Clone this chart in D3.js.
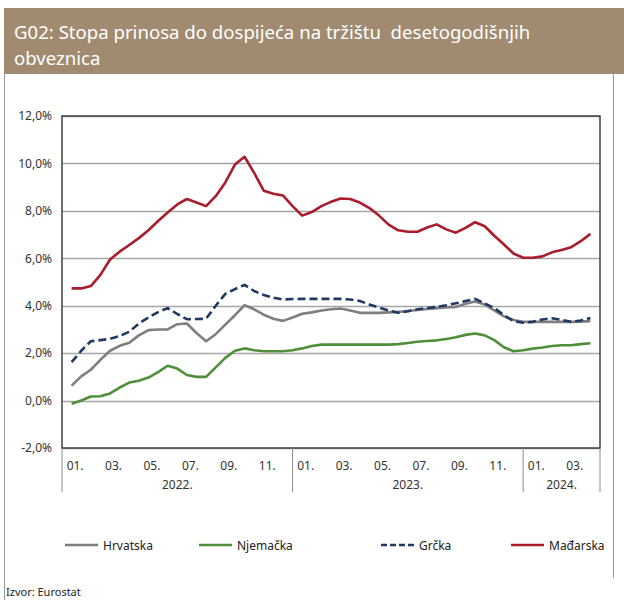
<!DOCTYPE html>
<html>
<head>
<meta charset="utf-8">
<script src="https://cdn.jsdelivr.net/npm/d3@7"></script>
<style>
  body { margin: 0; background: #fff; }
  text { font-family: "Noto Sans", "Open Sans", sans-serif; }
</style>
</head>
<body>
<svg id="chart" width="624" height="600"></svg>
<script>
// monthly ticks, Jan 2022 .. Apr 2024
var MONTHS = ['01.', '02.', '03.', '04.', '05.', '06.', '07.', '08.', '09.', '10.', '11.', '12.',
  '01.', '02.', '03.', '04.', '05.', '06.', '07.', '08.', '09.', '10.', '11.', '12.',
  '01.', '02.', '03.', '04.'];
var YEARS = [['2022.', 0, 12], ['2023.', 12, 24], ['2024.', 24, 28]];
var Y_TICKS = [-2, 0, 2, 4, 6, 8, 10, 12];

// values read twice a month (half-month steps)
var hrvatska = [0.63, 1.02, 1.3, 1.72, 2.1, 2.31, 2.44, 2.75, 2.97, 3.0, 3.0, 3.22, 3.25, 2.85, 2.5, 2.8,
  3.2, 3.6, 4.02, 3.85, 3.62, 3.45, 3.36, 3.5, 3.66, 3.72, 3.8, 3.85, 3.88, 3.8, 3.7, 3.7,
  3.7, 3.72, 3.74, 3.78, 3.82, 3.86, 3.9, 3.93, 3.95, 4.08, 4.18, 4.05, 3.8, 3.55, 3.4, 3.32,
  3.32, 3.32, 3.32, 3.32, 3.32, 3.33, 3.35];
var njemacka = [-0.13, 0.0, 0.17, 0.18, 0.3, 0.55, 0.76, 0.84, 0.97, 1.2, 1.47, 1.35, 1.08, 1.0, 1.0, 1.4,
  1.8, 2.1, 2.2, 2.12, 2.08, 2.08, 2.08, 2.12, 2.2, 2.3, 2.36, 2.36, 2.36, 2.36, 2.36, 2.36,
  2.36, 2.36, 2.38, 2.43, 2.48, 2.51, 2.54, 2.6, 2.67, 2.77, 2.83, 2.75, 2.55, 2.25, 2.08, 2.12,
  2.19, 2.24, 2.3, 2.33, 2.33, 2.38, 2.42];
var grcka = [1.62, 2.1, 2.5, 2.55, 2.6, 2.72, 2.9, 3.25, 3.5, 3.73, 3.9, 3.65, 3.43, 3.44, 3.45, 4.0,
  4.5, 4.7, 4.88, 4.62, 4.45, 4.34, 4.26, 4.28, 4.29, 4.29, 4.29, 4.29, 4.29, 4.26, 4.2, 4.05,
  3.92, 3.8, 3.7, 3.77, 3.85, 3.9, 3.95, 4.02, 4.1, 4.2, 4.29, 4.1, 3.9, 3.6, 3.35, 3.28,
  3.32, 3.42, 3.47, 3.4, 3.32, 3.38, 3.48];
var madjarska = [4.73, 4.73, 4.83, 5.3, 5.95, 6.28, 6.56, 6.85, 7.18, 7.57, 7.93, 8.27, 8.5, 8.35, 8.2, 8.62,
  9.2, 9.95, 10.28, 9.6, 8.85, 8.72, 8.65, 8.2, 7.8, 7.95, 8.2, 8.38, 8.52, 8.5, 8.35, 8.12,
  7.8, 7.42, 7.18, 7.12, 7.12, 7.3, 7.43, 7.22, 7.08, 7.28, 7.52, 7.35, 6.95, 6.58, 6.2, 6.02,
  6.02, 6.08, 6.25, 6.35, 6.47, 6.72, 7.03];

var SERIES = [
  ['Hrvatska', hrvatska, '#7f7f7f', null],
  ['Njemačka', njemacka, '#4f8f3a', null],
  ['Grčka', grcka, '#1f3864', '8,4'],
  ['Mađarska', madjarska, '#a81c2b', null]
];

var svg = d3.select('#chart');
var plotLeft = 62, plotRight = 600, plotTop = 116, plotBottom = 448;

// title bar
svg.append('rect').attr('x', 4).attr('y', 8).attr('width', 620).attr('height', 66).attr('fill', '#a08b71');
svg.append('text').attr('x', 14).attr('y', 39).attr('fill', '#fff').style('font-size', '18.6px')
  .attr('xml:space', 'preserve')
  .text('G02: Stopa prinosa do dospijeća na tržištu  desetogodišnjih');
svg.append('text').attr('x', 14).attr('y', 65).attr('fill', '#fff').style('font-size', '18.6px')
  .text('obveznica');

// frame
svg.append('line').attr('x1', 4.5).attr('x2', 4.5).attr('y1', 74).attr('y2', 600).attr('stroke', '#9a9a9a');
svg.append('line').attr('x1', 613.5).attr('x2', 613.5).attr('y1', 74).attr('y2', 578).attr('stroke', '#9a9a9a');

var x = d3.scaleLinear().domain([-0.5, MONTHS.length - 0.5]).range([plotLeft, plotRight]);
var y = d3.scaleLinear().domain([-2, 12]).range([plotBottom, plotTop]);

// grid
svg.append('g').selectAll('line').data(Y_TICKS).enter().append('line')
  .attr('x1', plotLeft).attr('x2', plotRight)
  .attr('y1', function(d) { return Math.round(y(d)) + 0.5; })
  .attr('y2', function(d) { return Math.round(y(d)) + 0.5; })
  .attr('stroke', '#a6a6a6').attr('stroke-width', 1.5);

// y axis labels (plain hyphen for negatives, comma decimal)
var yAxis = d3.axisLeft(y).tickValues(Y_TICKS).tickSize(0).tickPadding(10)
  .tickFormat(function(d) { return d.toFixed(1).replace('.', ',') + '%'; });
var gy = svg.append('g').attr('transform', 'translate(' + plotLeft + ',0)').call(yAxis);
gy.select('.domain').remove();
gy.selectAll('text').style('font-size', '12px').attr('fill', '#333').style('font-family', '"Noto Sans", sans-serif');

// plot box
svg.append('rect').attr('x', plotLeft).attr('y', plotTop)
  .attr('width', plotRight - plotLeft).attr('height', plotBottom - plotTop)
  .attr('fill', 'none').attr('stroke', '#404040').attr('stroke-width', 1.5);

// x axis month labels
var xAxis = d3.axisBottom(x).tickValues(d3.range(0, MONTHS.length, 2)).tickSize(0).tickPadding(13)
  .tickFormat(function(d) { return MONTHS[d]; });
var gx = svg.append('g').attr('transform', 'translate(0,' + plotBottom + ')').call(xAxis);
gx.select('.domain').remove();
gx.selectAll('text').attr('dx', 3).style('font-size', '12px').attr('fill', '#333')
  .style('font-family', '"Noto Sans", sans-serif');

// year separators and labels
var seps = [0, 12, 24, 28];
svg.append('g').selectAll('line').data(seps).enter().append('line')
  .attr('x1', function(d) { return x(d - 0.5); }).attr('x2', function(d) { return x(d - 0.5); })
  .attr('y1', plotBottom).attr('y2', 492).attr('stroke', '#8c8c8c');
svg.append('g').selectAll('text').data(YEARS).enter().append('text')
  .attr('x', function(d) { return (x(d[1] - 0.5) + x(d[2] - 0.5)) / 2; })
  .attr('y', 489).attr('text-anchor', 'middle').attr('fill', '#333').style('font-size', '12px')
  .text(function(d) { return d[0]; });

// lines
var line = d3.line().x(function(d, i) { return x(i / 2); }).y(function(d) { return y(d); });
svg.append('g').selectAll('path').data(SERIES).enter().append('path')
  .attr('d', function(s) { return line(s[1]); })
  .attr('fill', 'none')
  .attr('stroke', function(s) { return s[2]; })
  .attr('stroke-width', 2.6)
  .attr('stroke-linejoin', 'round')
  .attr('stroke-dasharray', function(s) { return s[3]; });

// legend
var legendX = [65, 199, 381, 511];
var leg = svg.append('g').selectAll('g').data(SERIES).enter().append('g')
  .attr('transform', function(s, i) { return 'translate(' + legendX[i] + ',545)'; });
leg.append('line').attr('x1', 0).attr('x2', 33).attr('y1', 0).attr('y2', 0)
  .attr('stroke', function(s) { return s[2]; }).attr('stroke-width', 2.6)
  .attr('stroke-dasharray', function(s) { return s[3] ? '6,3' : null; });
leg.append('text').attr('x', 38).attr('y', 4.5).attr('fill', '#222').style('font-size', '12px')
  .text(function(s) { return s[0]; });

svg.append('text').attr('x', 6).attr('y', 596).attr('fill', '#222').style('font-size', '11px')
  .text('Izvor: Eurostat');
</script>
</body>
</html>
